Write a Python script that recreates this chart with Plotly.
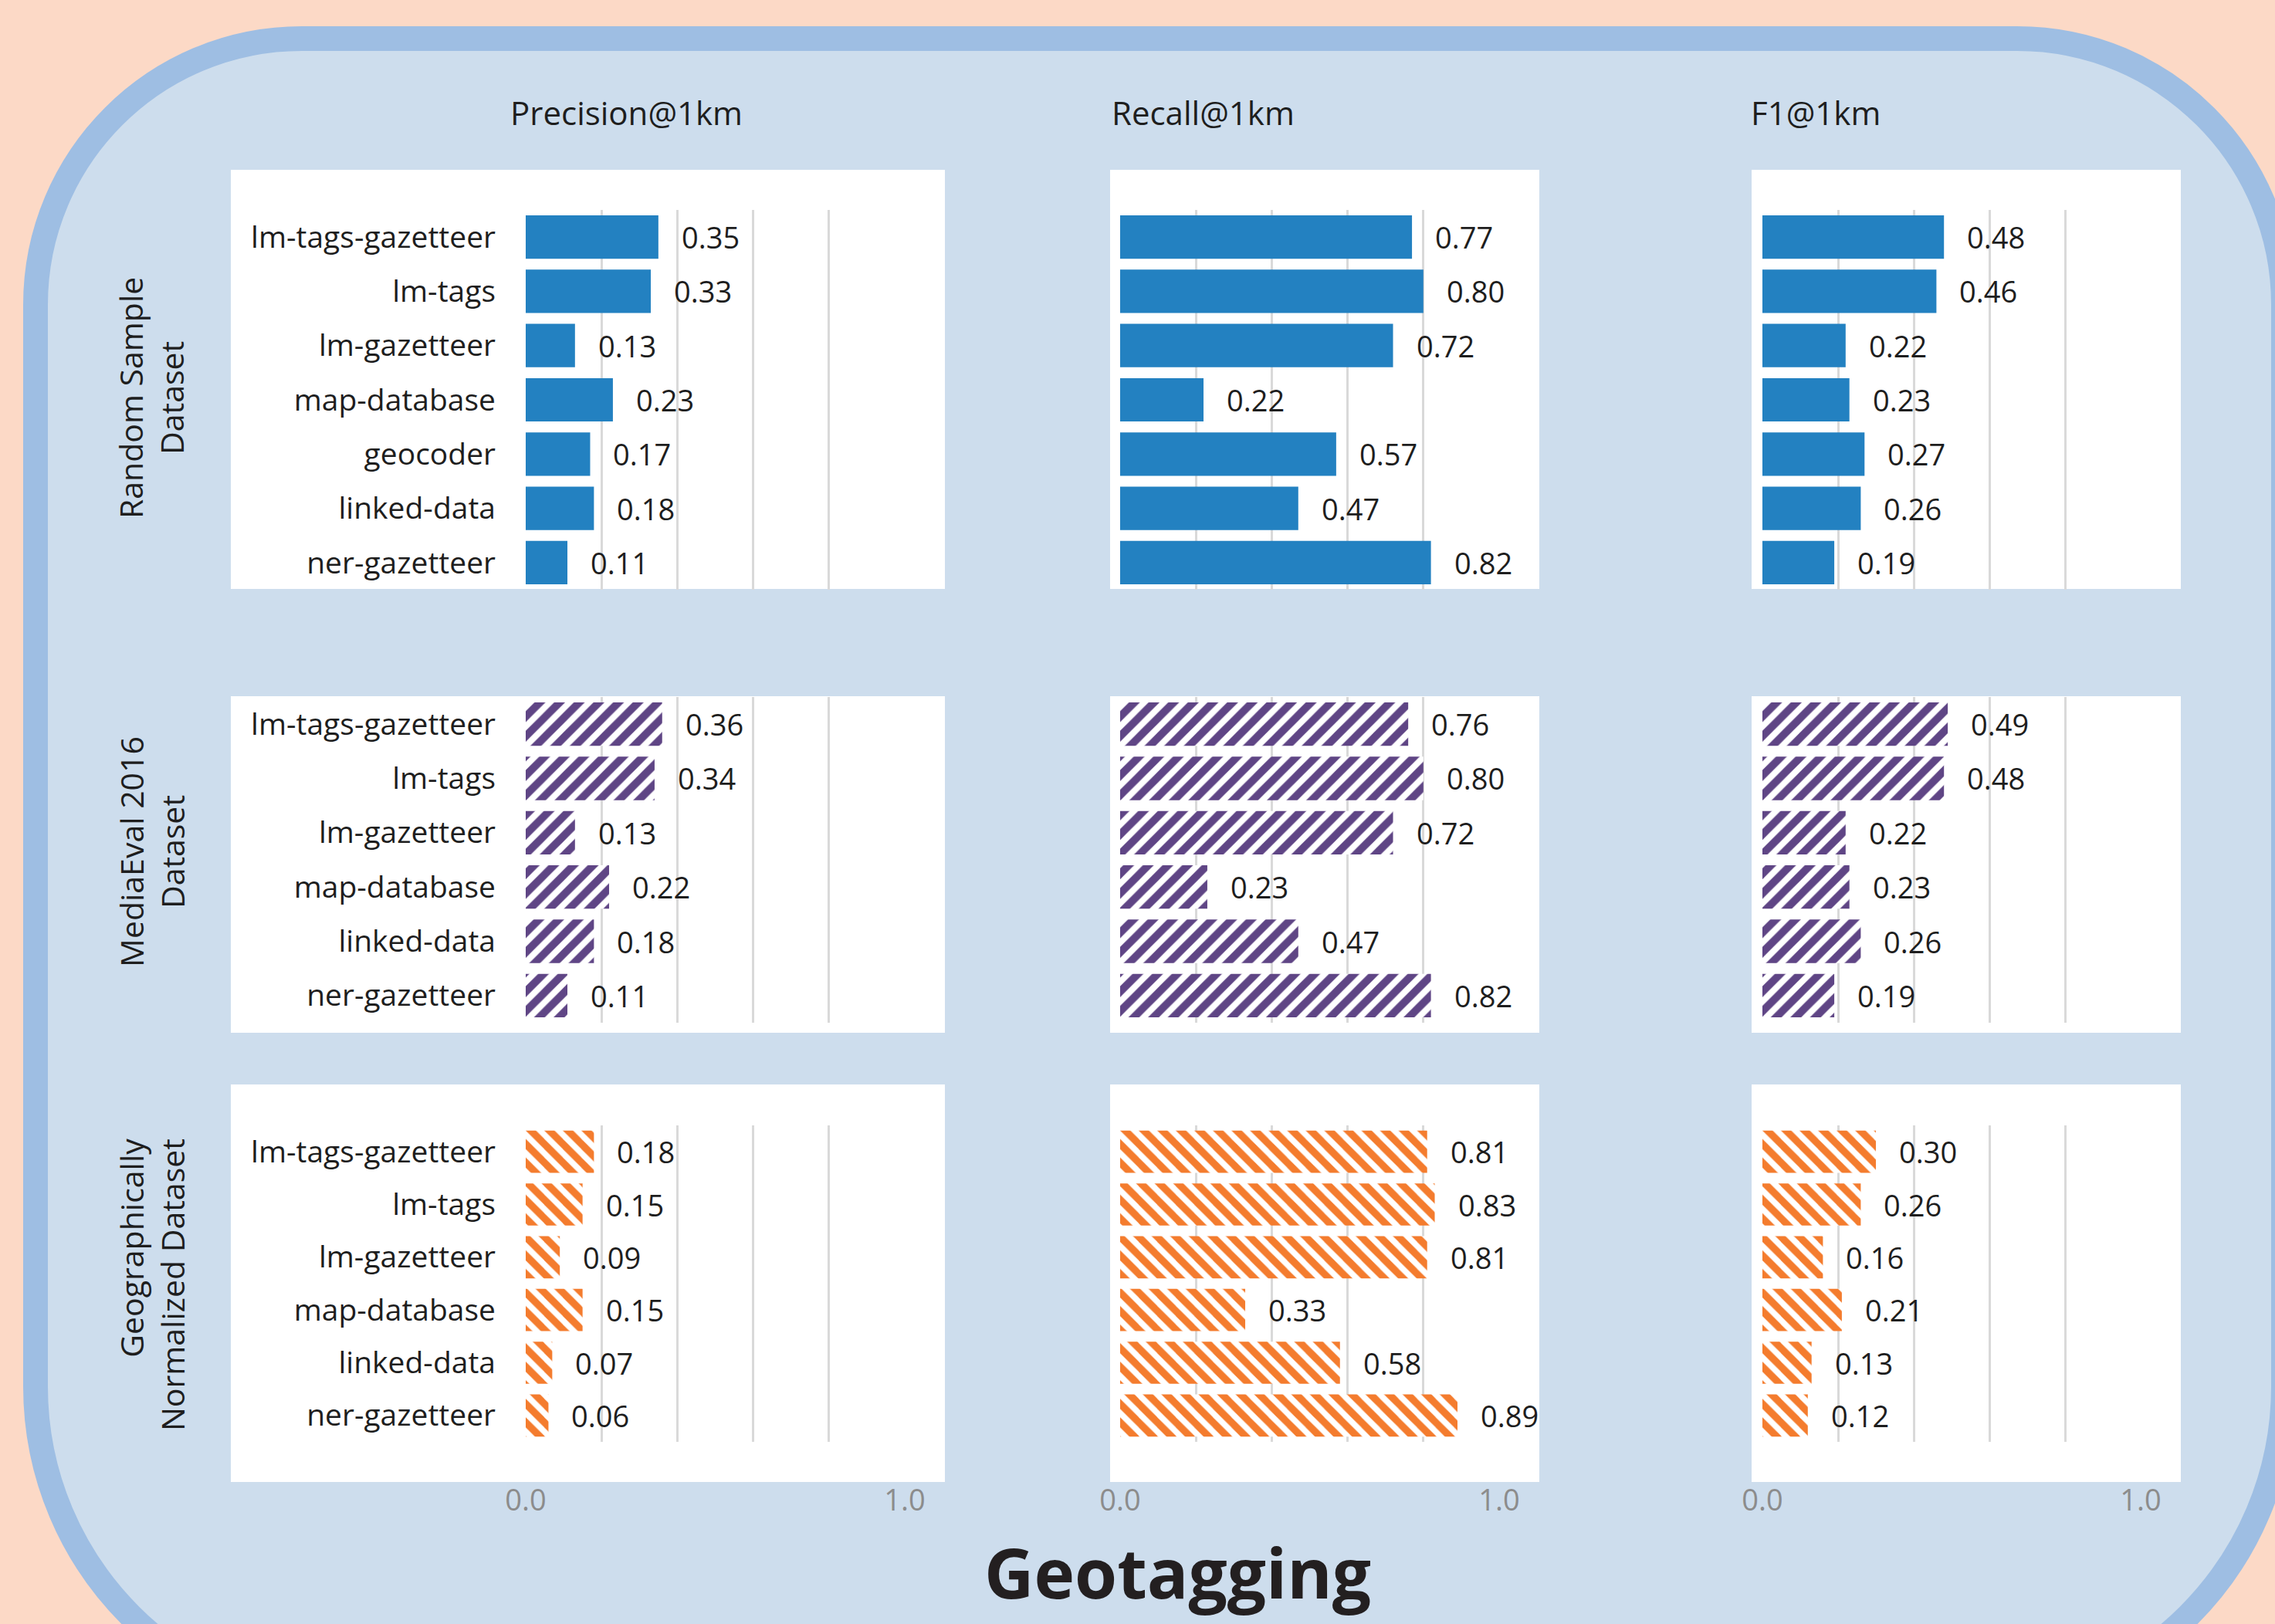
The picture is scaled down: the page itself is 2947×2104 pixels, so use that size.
import plotly.graph_objects as go

W, H = 2947, 2104

# ---------------- data ----------------
cats_random = ["lm-tags-gazetteer", "lm-tags", "lm-gazetteer", "map-database",
               "geocoder", "linked-data", "ner-gazetteer"]
cats_other = ["lm-tags-gazetteer", "lm-tags", "lm-gazetteer", "map-database",
              "linked-data", "ner-gazetteer"]

metric_titles = ["Precision@1km", "Recall@1km", "F1@1km"]
dataset_titles = ["Random Sample<br>Dataset", "MediaEval 2016<br>Dataset",
                  "Geographically<br>Normalized Dataset"]
main_title = "Geotagging"
tick_labels = ["0.0", "", "", "", "", "1.0"]
tick_values = [0, 0.2, 0.4, 0.6, 0.8, 1.0]

random_precision = [0.35, 0.33, 0.13, 0.23, 0.17, 0.18, 0.11]
random_recall = [0.77, 0.80, 0.72, 0.22, 0.57, 0.47, 0.82]
random_f1 = [0.48, 0.46, 0.22, 0.23, 0.27, 0.26, 0.19]

mediaeval_precision = [0.36, 0.34, 0.13, 0.22, 0.18, 0.11]
mediaeval_recall = [0.76, 0.80, 0.72, 0.23, 0.47, 0.82]
mediaeval_f1 = [0.49, 0.48, 0.22, 0.23, 0.26, 0.19]

geo_precision = [0.18, 0.15, 0.09, 0.15, 0.07, 0.06]
geo_recall = [0.81, 0.83, 0.81, 0.33, 0.58, 0.89]
geo_f1 = [0.30, 0.26, 0.16, 0.21, 0.13, 0.12]

# ---------------- styling ----------------
FONT = "Open Sans"
PEACH = "#FCD9C6"
BORDER = "#9EBEE3"
FILL = "#CDDDED"
BLUE = "#2381C1"
PURPLE = "#5F4585"
ORANGE = "#F47C2E"
TXT = "#1E1E1E"

rows = [
    (cats_random, [random_precision, random_recall, random_f1], dict(color=BLUE)),
    (cats_other, [mediaeval_precision, mediaeval_recall, mediaeval_f1],
     dict(color=PURPLE, pattern=dict(shape="/", fgcolor=PURPLE, bgcolor="white",
                                     fgopacity=1, size=18, solidity=0.55))),
    (cats_other, [geo_precision, geo_recall, geo_f1],
     dict(color=ORANGE, pattern=dict(shape="\\", fgcolor=ORANGE, bgcolor="white",
                                     fgopacity=1, size=17, solidity=0.55))),
]

col_x = [(681, 1172), (1451, 1942), (2283, 2773)]
row_y = [(272, 764), (903, 1325), (1458, 1868)]
panel_x = [(299, 1224), (1438, 1994), (2269, 2825)]
panel_y = [(220, 763), (902, 1338), (1405, 1920)]


def fx(x):
    return x / W


def fy(y):
    return 1 - y / H


fig = go.Figure()
annotations = []
shapes = []

# rounded background frame
k = 0.5523
L, T, R, B = 46, 50, 2958, 2216
rt, rb = 345, 420


def P(x, y):
    return f"{fx(x):.5f},{fy(y):.5f}"


path = (f"M {P(L+rt, T)} L {P(R-rt, T)} "
        f"C {P(R-rt+k*rt, T)} {P(R, T+rt-k*rt)} {P(R, T+rt)} "
        f"L {P(R, B-rb)} "
        f"C {P(R, B-rb+k*rb)} {P(R-rb+k*rb, B)} {P(R-rb, B)} "
        f"L {P(L+rb, B)} "
        f"C {P(L+rb-k*rb, B)} {P(L, B-rb+k*rb)} {P(L, B-rb)} "
        f"L {P(L, T+rt)} "
        f"C {P(L, T+rt-k*rt)} {P(L+rt-k*rt, T)} {P(L+rt, T)} Z")
shapes.append(dict(type="path", path=path, xref="paper", yref="paper",
                   fillcolor=FILL, line=dict(color=BORDER, width=32), layer="below"))

# white panels
for r in range(3):
    for c in range(3):
        shapes.append(dict(type="rect", xref="paper", yref="paper",
                           x0=fx(panel_x[c][0]), x1=fx(panel_x[c][1]),
                           y0=fy(panel_y[r][1]), y1=fy(panel_y[r][0]),
                           fillcolor="white", line=dict(width=0), layer="below"))

idx = 0
for r, (cats, series, marker) in enumerate(rows):
    for c in range(3):
        idx += 1
        sfx = "" if idx == 1 else str(idx)
        vals = series[c]
        fig.add_trace(go.Bar(
            x=vals, y=cats, orientation="h",
            marker=dict(line=dict(width=0), **marker),
            xaxis="x" + sfx, yaxis="y" + sfx, showlegend=False, hoverinfo="x+y",
        ))
        fig.layout["xaxis" + sfx] = dict(
            domain=[fx(col_x[c][0]), fx(col_x[c][1])], anchor="y" + sfx,
            range=[0, 1], tickmode="array", tickvals=tick_values, ticktext=tick_labels,
            showgrid=True, gridcolor="#D9D9D9", gridwidth=3, zeroline=False,
            showline=False, ticks="", showticklabels=(r == 2), automargin=False,
            tickfont=dict(family=FONT, size=38, color="#8C8C8C"),
            ticklabelstandoff=50, fixedrange=True,
        )
        fig.layout["yaxis" + sfx] = dict(
            domain=[fy(row_y[r][1]), fy(row_y[r][0])], anchor="x" + sfx,
            type="category", categoryorder="array", categoryarray=cats,
            autorange="reversed", showgrid=False, zeroline=False, showline=False,
            ticks="", showticklabels=(c == 0), ticklabelstandoff=38, automargin=False,
            tickfont=dict(family=FONT, size=39, color=TXT), fixedrange=True,
        )
        for v, cat in zip(vals, cats):
            annotations.append(dict(
                x=v, y=cat, xref="x" + sfx, yref="y" + sfx, text=f"{v:.2f}",
                showarrow=False, xanchor="left", yanchor="middle", xshift=28,
                font=dict(family=FONT, size=38, color=TXT),
            ))

# column titles
for t, xc in zip(metric_titles, [812, 1559, 2352]):
    annotations.append(dict(x=fx(xc), y=fy(146), xref="paper", yref="paper", text=t,
                            showarrow=False, xanchor="center", yanchor="middle",
                            font=dict(family=FONT, size=42, color=TXT)))

# row titles
for t, yc, al in zip(dataset_titles, [516, 1104, 1665], ["center", "center", "right"]):
    annotations.append(dict(x=fx(196), y=fy(yc), xref="paper", yref="paper", text=t,
                            showarrow=False, textangle=-90, align=al,
                            xanchor="center", yanchor="middle",
                            font=dict(family=FONT, size=41, color=TXT)))

annotations.append(dict(x=fx(1525), y=fy(2036), xref="paper", yref="paper",
                        text=f"<b>{main_title}</b>", showarrow=False,
                        xanchor="center", yanchor="middle",
                        font=dict(family=FONT, size=89, color="#231F20")))

fig.update_layout(
    width=W, height=H,
    margin=dict(l=0, r=0, t=0, b=0, pad=0, autoexpand=False),
    paper_bgcolor=PEACH, plot_bgcolor="rgba(0,0,0,0)",
    bargap=0.2, shapes=shapes, annotations=annotations,
    font=dict(family=FONT, color=TXT), showlegend=False,
)

fig.write_html(
    "out.html",
    config={"responsive": False, "displayModeBar": False},
    post_script="document.body.style.margin='0';document.body.style.overflow='hidden';",
)
